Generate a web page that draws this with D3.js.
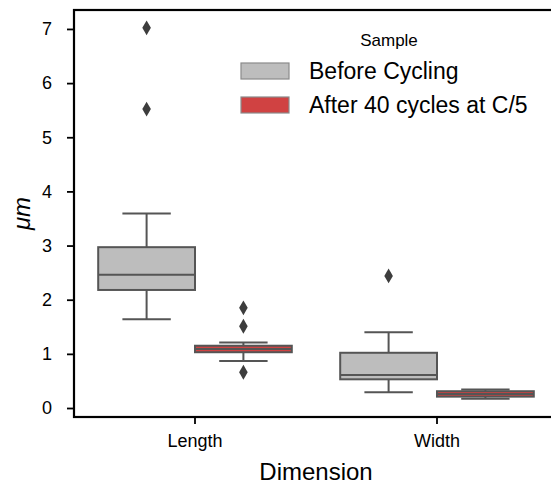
<!DOCTYPE html>
<html>
<head>
<meta charset="utf-8">
<script src="https://cdn.jsdelivr.net/npm/d3@7/dist/d3.min.js"></script>
<style>
  body { margin: 0; background: #fff; }
  svg { font-family: "Liberation Sans", Arial, sans-serif; }
</style>
</head>
<body>
<svg id="chart" width="551" height="484"></svg>
<script>
// Categories and sample groups
const dimensions = ["Length", "Width"];
const samples = ["Before Cycling", "After 40 cycles at C/5"];
const sampleColors = ["#bdbdbd", "#d04242"];

// Box statistics per dimension, one entry per sample: [lowWhisker, q1, median, q3, highWhisker]
const lengthStats = [[1.64, 2.18, 2.46, 2.97, 3.59], [0.87, 1.03, 1.09, 1.15, 1.21]];
const widthStats  = [[0.29, 0.53, 0.61, 1.02, 1.40], [0.17, 0.21, 0.26, 0.31, 0.34]];

// Outlying points per dimension, one list per sample
const lengthOutliers = [[5.52, 7.02], [0.66, 1.51, 1.85]];
const widthOutliers  = [[2.44], []];

const yTicks = [0, 1, 2, 3, 4, 5, 6, 7];

const statsByDim = { Length: lengthStats, Width: widthStats };
const outliersByDim = { Length: lengthOutliers, Width: widthOutliers };

const svg = d3.select("#chart");
const plot = { left: 74, right: 558, top: 10, bottom: 417 };

const x = d3.scaleBand().domain(dimensions).range([plot.left, plot.right]).paddingInner(0).paddingOuter(0);
const xHue = d3.scaleBand().domain(samples).range([x.bandwidth() * 0.1, x.bandwidth() * 0.9]);
const y = d3.scaleLinear().domain([-0.166, 7.35]).range([plot.bottom, plot.top]);

const edge = "#555555";
const lw = 2;
const g = svg.append("g");

dimensions.forEach(dim => {
  samples.forEach((s, si) => {
    const [lo, q1, med, q3, hi] = statsByDim[dim][si];
    const x0 = x(dim) + xHue(s);
    const w = xHue.bandwidth();
    const cx = x0 + w / 2;
    const grp = g.append("g");
    // whiskers
    grp.append("line").attr("x1", cx).attr("x2", cx).attr("y1", y(q3)).attr("y2", y(hi))
      .attr("stroke", edge).attr("stroke-width", lw);
    grp.append("line").attr("x1", cx).attr("x2", cx).attr("y1", y(q1)).attr("y2", y(lo))
      .attr("stroke", edge).attr("stroke-width", lw);
    // caps
    [lo, hi].forEach(v => {
      grp.append("line").attr("x1", cx - w / 4).attr("x2", cx + w / 4).attr("y1", y(v)).attr("y2", y(v))
        .attr("stroke", edge).attr("stroke-width", lw);
    });
    // box
    grp.append("rect").attr("x", x0).attr("width", w)
      .attr("y", y(q3)).attr("height", y(q1) - y(q3))
      .attr("fill", sampleColors[si]).attr("stroke", edge).attr("stroke-width", lw);
    // median
    grp.append("line").attr("x1", x0).attr("x2", x0 + w).attr("y1", y(med)).attr("y2", y(med))
      .attr("stroke", edge).attr("stroke-width", lw);
    // outliers
    const diamond = d3.symbol().type(d3.symbolDiamond).size(64);
    grp.selectAll("path.out").data(outliersByDim[dim][si]).enter().append("path")
      .attr("class", "out")
      .attr("d", diamond)
      .attr("transform", v => `translate(${cx},${y(v)})`)
      .attr("fill", "#3d3d3d");
  });
});

// Axes
const yAxis = d3.axisLeft(y).tickValues(yTicks).tickSize(7).tickPadding(15).tickFormat(d3.format("d"));
const xAxis = d3.axisBottom(x).tickSize(7).tickPadding(10);

const ya = svg.append("g").attr("transform", `translate(${plot.left},0)`).call(yAxis);
const xa = svg.append("g").attr("transform", `translate(0,${plot.bottom})`).call(xAxis);
[ya, xa].forEach(a => {
  a.select(".domain").remove();
  a.selectAll(".tick line").attr("stroke", "#000").attr("stroke-width", 1.8);
  a.selectAll(".tick text").attr("font-size", 18).attr("fill", "#000");
});

// Frame
svg.append("rect").attr("x", plot.left).attr("y", plot.top)
  .attr("width", plot.right - plot.left).attr("height", plot.bottom - plot.top)
  .attr("fill", "none").attr("stroke", "#000").attr("stroke-width", 2.2);

// Axis titles
svg.append("text").attr("x", 316).attr("y", 480).attr("text-anchor", "middle")
  .attr("font-size", 24).attr("fill", "#000").text("Dimension");
svg.append("text").attr("transform", `translate(30,${(plot.top + plot.bottom) / 2}) rotate(-90)`)
  .attr("text-anchor", "middle").attr("font-size", 24).attr("font-style", "italic")
  .attr("fill", "#000").text("μm");

// Legend
const leg = svg.append("g");
leg.append("text").attr("x", 389).attr("y", 46).attr("text-anchor", "middle")
  .attr("font-size", 17).attr("fill", "#000").text("Sample");
samples.forEach((s, i) => {
  const ly = 63 + i * 34;
  leg.append("rect").attr("x", 241).attr("y", ly).attr("width", 48).attr("height", 16)
    .attr("fill", sampleColors[i]).attr("stroke", "#8a8a8a").attr("stroke-width", 1.2);
  leg.append("text").attr("x", 309).attr("y", ly + 16).attr("font-size", 23)
    .attr("fill", "#000").text(s);
});
</script>
</body>
</html>
